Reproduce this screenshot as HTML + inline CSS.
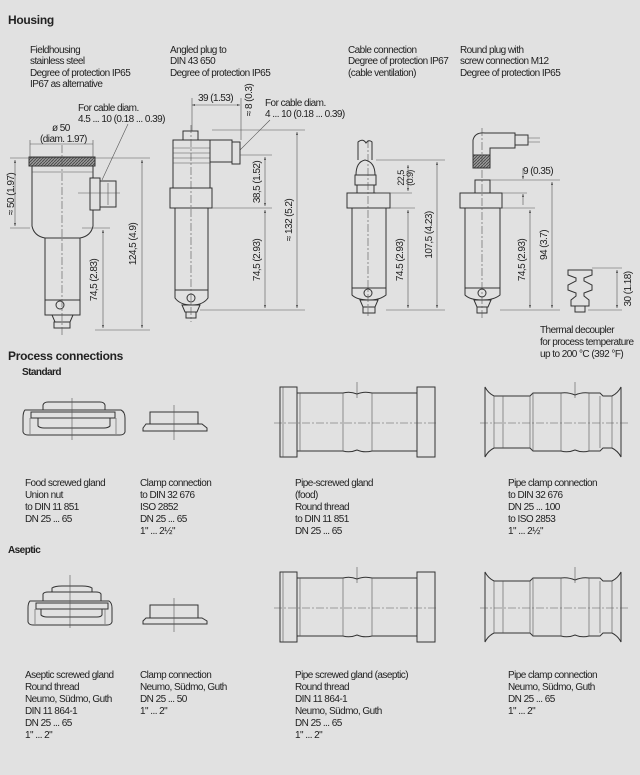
<!DOCTYPE html>
<html><head><meta charset="utf-8"><style>
html,body{margin:0;padding:0;background:#e1e1e1;}
svg{display:block}
text{font-family:"Liberation Sans Narrow","Liberation Sans",sans-serif;font-size:10px;fill:#222;letter-spacing:-0.55px}
.b{font-weight:bold;font-size:12px;letter-spacing:-0.3px}
.s{font-weight:bold;font-size:10px}
.l{fill:none;stroke:#333;stroke-width:1}
.t{fill:none;stroke:#555;stroke-width:0.6}
.c{fill:none;stroke:#555;stroke-width:0.6;stroke-dasharray:8 2 2 2}
.f{fill:#e1e1e1;stroke:#333;stroke-width:1}
</style></head><body>
<svg width="640" height="775" viewBox="0 0 640 775" xmlns="http://www.w3.org/2000/svg">
<defs>
<marker id="a" markerWidth="6" markerHeight="6" refX="5" refY="3" orient="auto"><path d="M0,1.5 L5,3 L0,4.5z" fill="#333"/></marker>
<marker id="as" markerWidth="6" markerHeight="6" refX="0" refY="3" orient="auto"><path d="M5,1.5 L0,3 L5,4.5z" fill="#333"/></marker>
<pattern id="k" width="3" height="3" patternUnits="userSpaceOnUse"><rect width="3" height="3" fill="#999"/><path d="M0,3 L3,0" stroke="#444" stroke-width="0.8"/></pattern>
<g id="pipe">
<rect class="f" x="280" y="387" width="17" height="70"/>
<rect class="f" x="417" y="387" width="18" height="70"/>
<path class="l" d="M297,393 H343 Q350,391 357,394 Q364,391 372,393 H417 M297,451 H343 Q350,453 357,450 Q364,453 372,451 H417"/>
<path class="t" d="M343,393 V451 M372,393 V451 M300,393 V451 M283,387 V457"/>
<path class="c" d="M274,423 H438"/>
<path class="t" d="M357,382 V398"/>
</g>
<g id="pclamp">
<path class="l" d="M485,387 Q488,393 494,396 H530 L533,393 H561 Q568,392 575,395 Q582,392 589,393 H600 L603,396 H612 Q618,393 621,387 V457 Q618,451 612,448 H603 L600,451 H589 Q582,453 575,450 Q568,453 561,451 H533 L530,448 H494 Q488,451 485,457 Z"/>
<path class="t" d="M494,396 V448 M503,396 V448 M530,396 V448 M533,393 V451 M561,393 V451 M589,393 V451 M600,396 V448 M612,396 V448"/>
<path class="c" d="M480,423 H628"/>
<path class="t" d="M575,382 V398"/>
</g>
</defs>

<text class="b" x="8" y="24">Housing</text>
<text x="30" y="53">Fieldhousing</text><text x="30" y="64">stainless steel</text><text x="30" y="76">Degree of protection IP65</text><text x="30" y="87">IP67 as alternative</text>
<text x="170" y="53">Angled plug to</text><text x="170" y="64">DIN 43 650</text><text x="170" y="76">Degree of protection IP65</text>
<text x="348" y="53">Cable connection</text><text x="348" y="64">Degree of protection IP67</text><text x="348" y="76">(cable ventilation)</text>
<text x="460" y="53">Round plug with</text><text x="460" y="64">screw connection M12</text><text x="460" y="76">Degree of protection IP65</text>

<text x="78" y="111">For cable diam.</text><text x="78" y="122">4.5 ... 10 (0.18 ... 0.39)</text>
<text x="52" y="131">ø 50</text><text x="40" y="142">(diam. 1.97)</text>
<path class="t" d="M30,144 H93 M30,140 V160 M93,140 V160" marker-end="url(#a)"/>
<path class="t" d="M102,180 L128,124"/>

<rect x="29" y="157" width="66" height="9" fill="url(#k)" stroke="#333"/>
<path class="l" d="M32,166 V226 Q34,236 45,238 H80 Q91,236 93,226 V166"/>
<path class="t" d="M32,172 H93"/>
<rect class="f" x="90" y="178" width="10" height="32"/><rect class="f" x="100" y="181" width="16" height="26"/>
<path class="t" d="M78,193 H120 M108,183 V205"/>
<rect class="f" x="45" y="238" width="35" height="62"/>
<rect class="f" x="45" y="300" width="35" height="15"/>
<circle class="l" cx="60" cy="305" r="4"/>
<path class="l" d="M52,315 H73 L70,322 H55 Z"/><rect class="f" x="54" y="322" width="16" height="6"/>
<path class="c" d="M62,145 V335"/>
<path class="t" d="M10,158 H150 M10,228 H30 M95,330 H150 M82,228 H110"/>
<path class="t" d="M15,160 V226" marker-start="url(#as)" marker-end="url(#a)"/>
<path class="t" d="M142,160 V328" marker-start="url(#as)" marker-end="url(#a)"/>
<path class="t" d="M103,230 V328" marker-start="url(#as)" marker-end="url(#a)"/>
<text transform="translate(14,194) rotate(-90)" text-anchor="middle">≈ 50 (1.97)</text>
<text transform="translate(136,244) rotate(-90)" text-anchor="middle">124,5 (4.9)</text>
<text transform="translate(97,280) rotate(-90)" text-anchor="middle">74,5 (2.83)</text>

<text x="198" y="101">39 (1.53)</text>
<path class="t" d="M192,105 H240" marker-start="url(#as)" marker-end="url(#a)"/>
<path class="t" d="M192,98 V135 M241,98 V140"/>
<text transform="translate(252,100) rotate(-90)" text-anchor="middle">≈ 8 (0.3)</text>
<text x="265" y="106">For cable diam.</text><text x="265" y="117">4 ... 10 (0.18 ... 0.39)</text>
<path class="t" d="M238,152 L270,120"/>
<rect class="f" x="183" y="131" width="15" height="9"/>
<rect class="f" x="173" y="140" width="37" height="48"/>
<path class="t" d="M173,148 H210 M173,153 H210 M173,158 H210 M173,163 H210"/>
<rect class="f" x="210" y="140" width="22" height="22"/>
<rect class="f" x="232" y="142" width="8" height="22"/>
<rect class="f" x="170" y="188" width="42" height="20"/>
<rect class="f" x="175" y="208" width="33" height="82"/>
<path class="l" d="M175,290 V298 Q180,305 192,305 Q203,305 208,298 V290"/>
<circle class="l" cx="191" cy="298" r="4"/>
<path class="l" d="M182,305 H200 L197,312 H185 Z"/><rect class="f" x="186" y="312" width="10" height="6"/>
<path class="c" d="M191,125 V322"/>
<path class="t" d="M212,130 H305 M240,155 H272 M212,208 H272 M200,310 H305"/>
<path class="t" d="M265,157 V206" marker-start="url(#as)" marker-end="url(#a)"/>
<path class="t" d="M265,210 V308" marker-start="url(#as)" marker-end="url(#a)"/>
<path class="t" d="M297,132 V308" marker-start="url(#as)" marker-end="url(#a)"/>
<text transform="translate(260,182) rotate(-90)" text-anchor="middle">38,5 (1.52)</text>
<text transform="translate(260,260) rotate(-90)" text-anchor="middle">74,5 (2.93)</text>
<text transform="translate(292,220) rotate(-90)" text-anchor="middle">≈ 132 (5.2)</text>

<path class="l" d="M358,160 V142 Q363,138 366,143 Q369,139 372,142 V160"/>
<path class="f" d="M356,175 Q356,162 365,160 Q375,162 375,175 Z"/>
<rect class="f" x="355" y="175" width="21" height="10"/><rect class="f" x="357" y="185" width="17" height="8"/>
<rect class="f" x="347" y="193" width="43" height="15"/>
<rect class="f" x="352" y="208" width="34" height="80"/>
<path class="l" d="M352,288 V295 Q357,300 369,300 Q380,300 386,295 V288"/>
<circle class="l" cx="368" cy="293" r="4"/>
<path class="l" d="M360,300 H378 L375,307 H363 Z"/><rect class="f" x="363" y="307" width="12" height="6"/>
<path class="c" d="M368,140 V318"/>
<path class="t" d="M376,160 H445 M376,193 H412 M390,208 H415 M386,310 H445"/>
<path class="t" d="M408,165 V191" marker-start="url(#as)" marker-end="url(#a)"/>
<path class="t" d="M408,210 V308" marker-start="url(#as)" marker-end="url(#a)"/>
<path class="t" d="M437,162 V308" marker-start="url(#as)" marker-end="url(#a)"/>
<text transform="translate(404,178) rotate(-90)" text-anchor="middle" style="font-size:9px">22,5</text>
<text transform="translate(413,178) rotate(-90)" text-anchor="middle" style="font-size:9px">(0.9)</text>
<text transform="translate(403,260) rotate(-90)" text-anchor="middle">74.5 (2.93)</text>
<text transform="translate(432,235) rotate(-90)" text-anchor="middle">107,5 (4.23)</text>

<path class="f" d="M473,155 V140 Q475,132 485,133 H515 V148 H490 V155 Z"/>
<rect class="f" x="515" y="135" width="13" height="10"/>
<path class="t" d="M528,138 H540 M528,142 H540"/>
<rect x="473" y="155" width="17" height="13" fill="url(#k)" stroke="#333"/>
<rect class="f" x="475" y="180" width="15" height="13"/>
<rect class="f" x="460" y="193" width="42" height="15"/>
<rect class="f" x="465" y="208" width="35" height="80"/>
<path class="l" d="M465,288 V295 Q470,300 482,300 Q494,300 500,295 V288"/>
<circle class="l" cx="482" cy="293" r="4"/>
<path class="l" d="M474,300 H491 L488,307 H477 Z"/><rect class="f" x="477" y="307" width="10" height="6"/>
<path class="c" d="M482,128 V318"/>
<path class="t" d="M490,180 H560 M502,193 H527 M500,208 H535 M500,310 H560"/>
<path class="t" d="M523,168 V179" marker-end="url(#a)"/><path class="t" d="M523,205 V194" marker-end="url(#a)"/>
<text x="523" y="174">9 (0.35)</text>
<path class="t" d="M530,210 V308" marker-start="url(#as)" marker-end="url(#a)"/>
<path class="t" d="M552,182 V308" marker-start="url(#as)" marker-end="url(#a)"/>
<text transform="translate(525,260) rotate(-90)" text-anchor="middle">74,5 (2.93)</text>
<text transform="translate(547,245) rotate(-90)" text-anchor="middle">94 (3.7)</text>
<path class="f" d="M568,270 H592 V275 L584,278 V281 L592,285 V290 L584,293 V296 L589,300 V306 H571 V300 L576,296 V293 L568,290 V285 L576,281 V278 L568,275 Z"/>
<rect class="f" x="575" y="306" width="10" height="6"/>
<path class="t" d="M592,268 H622 M588,310 H622"/>
<path class="t" d="M617,270 V308" marker-start="url(#as)" marker-end="url(#a)"/>
<text transform="translate(631,289) rotate(-90)" text-anchor="middle">30 (1.18)</text>
<text x="540" y="333">Thermal decoupler</text><text x="540" y="345">for process temperature</text><text x="540" y="357">up to 200 °C (392 °F)</text>

<text class="b" x="8" y="360">Process connections</text>
<text class="s" x="22" y="375">Standard</text>
<path class="f" d="M43,410 V405 Q44,402 48,402 H100 Q104,402 105,405 V410 Z"/>
<path class="l" d="M25,410 Q23,412 23,418 V432 Q24,435 28,435 H120 Q124,435 125,432 V418 Q125,412 121,410 Z"/>
<rect class="f" x="31" y="412" width="84" height="6"/>
<path class="l" d="M38,418 V426 Q40,428 44,428 H104 Q108,428 110,426 V418"/>
<path class="t" d="M30,418 V434 M116,418 V434 M72,398 V440"/>
<rect class="f" x="150" y="412" width="48" height="12"/>
<path class="f" d="M146,424 H202 L207,428 V431 H143 V428 Z"/>
<path class="t" d="M174,405 V440"/>
<use href="#pipe"/>
<use href="#pclamp"/>
<text x="25" y="486">Food screwed gland</text><text x="25" y="498">Union nut</text><text x="25" y="510">to DIN 11 851</text><text x="25" y="522">DN 25 ... 65</text>
<text x="140" y="486">Clamp connection</text><text x="140" y="498">to DIN 32 676</text><text x="140" y="510">ISO 2852</text><text x="140" y="522">DN 25 ... 65</text><text x="140" y="534">1" ... 2½"</text>
<text x="295" y="486">Pipe-screwed gland</text><text x="295" y="498">(food)</text><text x="295" y="510">Round thread</text><text x="295" y="522">to DIN 11 851</text><text x="295" y="534">DN 25 ... 65</text>
<text x="508" y="486">Pipe clamp connection</text><text x="508" y="498">to DIN 32 676</text><text x="508" y="510">DN 25 ... 100</text><text x="508" y="522">to ISO 2853</text><text x="508" y="534">1" ... 2½"</text>

<text class="s" x="8" y="553">Aseptic</text>
<path class="f" d="M52,592 V588 Q55,586 62,586 H82 Q89,586 92,588 V592 Z"/>
<path class="f" d="M43,601 V594 Q44,592 48,592 H96 Q100,592 101,594 V601 Z"/>
<path class="l" d="M30,601 Q28,603 28,608 V622 Q29,625 33,625 H107 Q111,625 112,622 V608 Q112,603 109,601 Z"/>
<rect class="f" x="36" y="603" width="72" height="6"/>
<path class="l" d="M41,609 V615 Q43,617 47,617 H97 Q101,617 102,615 V609"/>
<path class="t" d="M35,609 V624 M105,609 V624 M70,575 V628"/>
<rect class="f" x="150" y="605" width="48" height="13"/>
<path class="f" d="M146,618 H202 L207,621 V624 H143 V621 Z"/>
<path class="t" d="M174,598 V632"/>
<use href="#pipe" transform="translate(0,185)"/>
<use href="#pclamp" transform="translate(0,185)"/>
<text x="25" y="678">Aseptic screwed gland</text><text x="25" y="690">Round thread</text><text x="25" y="702">Neumo, Südmo, Guth</text><text x="25" y="714">DIN 11 864-1</text><text x="25" y="726">DN 25 ... 65</text><text x="25" y="738">1" ... 2"</text>
<text x="140" y="678">Clamp connection</text><text x="140" y="690">Neumo, Südmo, Guth</text><text x="140" y="702">DN 25 ... 50</text><text x="140" y="714">1" ... 2"</text>
<text x="295" y="678">Pipe screwed gland (aseptic)</text><text x="295" y="690">Round thread</text><text x="295" y="702">DIN 11 864-1</text><text x="295" y="714">Neumo, Südmo, Guth</text><text x="295" y="726">DN 25 ... 65</text><text x="295" y="738">1" ... 2"</text>
<text x="508" y="678">Pipe clamp connection</text><text x="508" y="690">Neumo, Südmo, Guth</text><text x="508" y="702">DN 25 ... 65</text><text x="508" y="714">1" ... 2"</text>
</svg>
</body></html>
